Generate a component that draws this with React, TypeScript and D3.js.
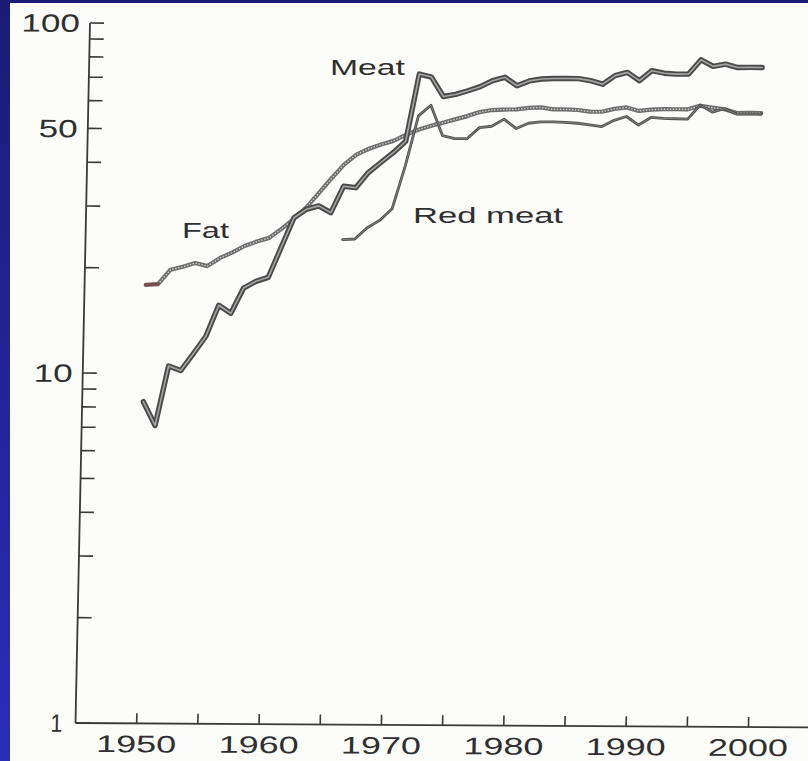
import React from 'react';
import * as d3 from 'd3';

// Per-capita supply series (log scale), annual values
const meatStartYear = 1950;
const meatValues = [
  8.3, 7.1, 10.5, 10.2, 11.4, 12.8, 15.7, 14.9, 17.6, 18.4,
  18.9, 23.0, 28.0, 29.6, 30.3, 29.0, 34.5, 34.2, 37.8, 40.4,
  43.1, 46.5, 72.4, 71.0, 62.5, 63.4, 65.0, 66.8, 69.5, 71.1,
  67.3, 69.5, 70.4, 70.7, 70.7, 70.7, 69.8, 68.2, 72.2, 73.8,
  69.9, 74.7, 73.5, 73.1, 73.2, 80.4, 77.0, 78.2, 76.5, 76.6,
  76.6,
];

const fatStartYear = 1950;
const fatValues = [
  17.9, 18.0, 19.8, 20.2, 20.7, 20.3, 21.4, 22.2, 23.2, 23.9,
  24.5, 26.0, 27.8, 30.0, 33.0, 36.3, 39.8, 42.5, 44.2, 45.5,
  46.6, 48.5, 50.2, 51.5, 52.6, 53.8, 55.0, 56.5, 57.3, 57.5,
  57.6, 58.2, 58.4, 57.7, 57.7, 57.5, 56.9, 56.9, 58.0, 58.6,
  57.3, 57.8, 58.0, 58.0, 58.0, 59.4, 58.7, 58.1, 56.7, 56.8,
  56.7,
];

const redMeatStartYear = 1966;
const redMeatValues = [
  24.3, 24.4, 26.3, 27.6,
  29.8, 39.5, 55.0, 59.0, 48.3, 47.4, 47.4, 51.0, 51.5, 54.0,
  50.8, 52.6, 53.1, 53.1, 53.0, 52.7, 52.2, 51.6, 53.8, 55.2,
  52.2, 54.9, 54.6, 54.5, 54.4, 59.7, 57.0, 58.3, 56.3, 56.4,
  56.3,
];

// Axis ticks
const xTickYears = [1950, 1955, 1960, 1965, 1970, 1975, 1980, 1985, 1990, 1995, 2000];
const xLabelYears = [1950, 1960, 1970, 1980, 1990, 2000];
const yTickValues = [1, 2, 3, 4, 5, 6, 7, 8, 9, 10, 20, 30, 40, 50, 60, 70, 80, 90, 100];
const yLabelValues = [1, 10, 50, 100];

type Pt = { year: number; value: number };
const toPoints = (start: number, vals: number[]): Pt[] =>
  vals.map((v, i) => ({ year: start + i, value: v }));

const W = 808;
const H = 761;
const X0 = 75.5;
const Y0 = 723;
const PX_PER_YEAR = 12.236;

const x = d3.scaleLinear().domain([1945, 2005]).range([X0, X0 + 60 * PX_PER_YEAR]);
const y = d3.scaleLog().domain([1, 100]).range([Y0, 23]);

const line = d3
  .line<Pt>()
  .x((d) => x(d.year))
  .y((d) => y(d.value));

// slight skew of the printed page
const SKEW_X = -0.0207;
const SKEW_Y = 0.0059;
const pageTransform = `matrix(1,${SKEW_Y},${SKEW_X},1,${-SKEW_X * Y0},${-SKEW_Y * X0})`;

const font = '"Liberation Sans", Arial, Helvetica, sans-serif';
const ink = '#2f2f2f';

export default function App() {
  const meat = toPoints(meatStartYear, meatValues);
  const fat = toPoints(fatStartYear, fatValues);
  const red = toPoints(redMeatStartYear, redMeatValues);

  const meatPath = line(meat) || '';
  const fatPath = line(fat) || '';
  const fatHead = line(fat.slice(0, 2)) || '';
  const redPath = line(red) || '';

  const labelWidth = (s: string) => (s.length === 1 ? 12 : s.length * 19.5);

  return (
    <svg
      width={W}
      height={H}
      viewBox={`0 0 ${W} ${H}`}
      style={{ position: 'absolute', left: 0, top: 0, display: 'block' }}
    >
      <defs>
        <linearGradient id="frameBlue" x1="0" y1="0" x2="0" y2="1">
          <stop offset="0" stopColor="#1b1b76" />
          <stop offset="1" stopColor="#2c2cbc" />
        </linearGradient>
      </defs>
      <rect x={0} y={0} width={W} height={H} fill="#fcfcfb" />

      <g transform={pageTransform}>
        {/* axes */}
        <line x1={X0} y1={y(100)} x2={X0} y2={Y0} stroke="#3a3a3a" strokeWidth={1.8} />
        <line x1={X0} y1={Y0} x2={W + 20} y2={Y0} stroke="#3a3a3a" strokeWidth={1.8} />

        {yTickValues.map((v) => (
          <line
            key={`yt${v}`}
            x1={X0}
            x2={X0 + 14}
            y1={y(v)}
            y2={y(v)}
            stroke="#3a3a3a"
            strokeWidth={1.6}
          />
        ))}
        {yLabelValues.map((v) => {
          const s = String(v);
          return (
            <text
              key={`yl${v}`}
              x={v === 1 ? X0 - 13 : X0 - 10}
              y={y(v) + 9}
              textAnchor="end"
              fontFamily={font}
              fontSize={25}
              fill={ink}
              textLength={labelWidth(s)}
              lengthAdjust="spacingAndGlyphs"
            >
              {s}
            </text>
          );
        })}

        {xTickYears.map((yr) => (
          <line
            key={`xt${yr}`}
            x1={x(yr)}
            x2={x(yr)}
            y1={Y0}
            y2={Y0 - 10}
            stroke="#3a3a3a"
            strokeWidth={1.6}
          />
        ))}
        {xLabelYears.map((yr) => (
          <text
            key={`xl${yr}`}
            x={x(yr)}
            y={Y0 + 29}
            textAnchor="middle"
            fontFamily={font}
            fontSize={24}
            fill={ink}
            textLength={80}
            lengthAdjust="spacingAndGlyphs"
          >
            {yr}
          </text>
        ))}

        {/* Fat: textured band */}
        <path d={fatPath} fill="none" stroke="#6c6c6c" strokeWidth={4.2} strokeLinejoin="round" strokeLinecap="round" />
        <path d={fatPath} fill="none" stroke="#d4d4d4" strokeWidth={1.4} strokeDasharray="1.4 1.6" strokeLinejoin="round" />
        <path d={fatHead} fill="none" stroke="#7d4a4c" strokeWidth={3} strokeLinecap="round" />

        {/* Red meat */}
        <path d={redPath} fill="none" stroke="#4f4f4f" strokeWidth={2.8} strokeLinejoin="round" strokeLinecap="round" />
        <path d={redPath} fill="none" stroke="#8c8c8c" strokeWidth={0.8} strokeLinejoin="round" />

        {/* Meat */}
        <path d={meatPath} fill="none" stroke="#4a4a4a" strokeWidth={5.4} strokeLinejoin="round" strokeLinecap="round" />
        <path d={meatPath} fill="none" stroke="#a6a6a6" strokeWidth={1.6} strokeLinejoin="round" strokeLinecap="round" />
      </g>

      {/* series labels */}
      <text x={330} y={75} fontFamily={font} fontSize={22} fill={ink} textLength={75} lengthAdjust="spacingAndGlyphs">
        Meat
      </text>
      <text x={182} y={238} fontFamily={font} fontSize={22} fill={ink} textLength={47} lengthAdjust="spacingAndGlyphs">
        Fat
      </text>
      <text x={413} y={223} fontFamily={font} fontSize={22} fill={ink} textLength={150} lengthAdjust="spacingAndGlyphs">
        Red meat
      </text>

      {/* page frame */}
      <rect x={0} y={0} width={10} height={H} fill="url(#frameBlue)" />
      <rect x={0} y={0} width={W} height={3} fill="#1b1b76" />
    </svg>
  );
}
